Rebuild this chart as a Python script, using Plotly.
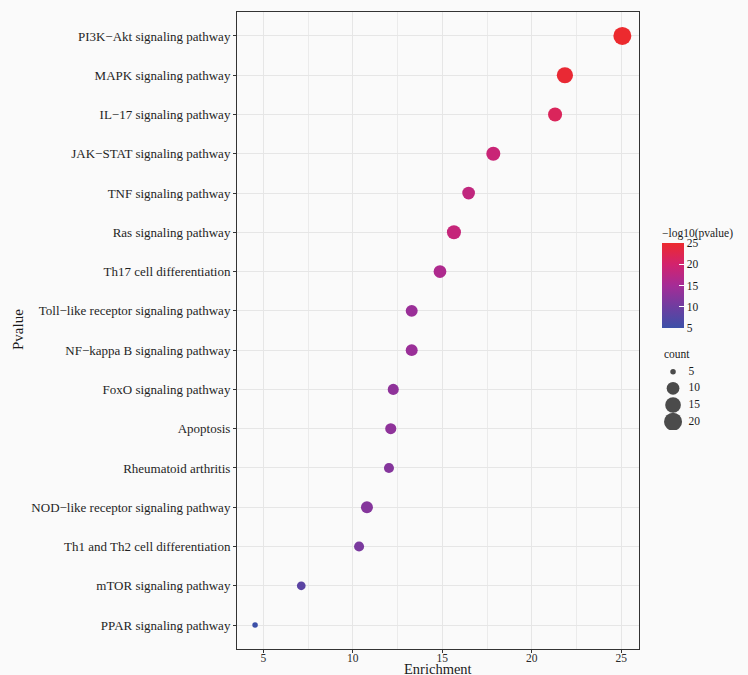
import plotly.graph_objects as go

pathways = [
    "PI3K−Akt signaling pathway", "MAPK signaling pathway", "IL−17 signaling pathway",
    "JAK−STAT signaling pathway", "TNF signaling pathway", "Ras signaling pathway",
    "Th17 cell differentiation", "Toll−like receptor signaling pathway",
    "NF−kappa B signaling pathway", "FoxO signaling pathway", "Apoptosis",
    "Rheumatoid arthritis", "NOD−like receptor signaling pathway",
    "Th1 and Th2 cell differentiation", "mTOR signaling pathway", "PPAR signaling pathway",
]
enrichment = [25.06, 21.85, 21.3, 17.85, 16.47, 15.65, 14.87, 13.29, 13.29, 12.26,
              12.12, 12.02, 10.79, 10.35, 7.12, 4.54]
counts = [20, 16, 12, 12, 10, 12, 10, 9, 9, 8, 8, 7, 9, 7, 6, 5]
neglog10p = [25.1, 24.6, 21.5, 19.0, 18.0, 18.5, 16.0, 14.0, 14.0, 13.0, 13.0, 12.0,
             12.0, 11.0, 8.0, 4.9]

x_ticks = [5, 10, 15, 20, 25]
color_ticks = [5, 10, 15, 20, 25]
legend_counts = [5, 10, 15, 20]

FONT = "Liberation Serif"
CMIN, CMAX = 4.9, 25.1
stops = [(4.9, "#3C50A8"), (10, "#6F3DA0"), (15, "#A52C96"), (20, "#D2236E"), (25.1, "#EC2A2E")]
colorscale = [[(v - CMIN) / (CMAX - CMIN), c] for v, c in stops]

CNT_MIN, CNT_MAX = 5, 20


def dsize(c):
    t = max(0.0, (c - CNT_MIN) / (CNT_MAX - CNT_MIN))
    return 5.5 + 12.5 * t ** 0.5


W, H = 748, 675
L, R, T, B = 237, 0, 12, 26
PW = W - L - R
PH = H - T - B
panel_right = 639


def px_x(x):
    return (x - L) / PW


def px_y(y):
    return (H - B - y) / PH


fig = go.Figure()

fig.add_trace(go.Scatter(
    x=enrichment, y=pathways, mode="markers",
    marker=dict(
        size=[dsize(c) for c in counts], color=neglog10p,
        colorscale=colorscale, cmin=CMIN, cmax=CMAX, line=dict(width=0), opacity=1,
        colorbar=dict(
            x=px_x(662), xanchor="left", y=px_y(328), yanchor="bottom",
            len=103, lenmode="pixels", thickness=22, xpad=0, ypad=0,
            outlinewidth=0, ticks="inside", ticklen=5, tickcolor="white",
            tickvals=color_ticks, tickfont=dict(family=FONT, size=11.5, color="#1a1a1a"),
            title=dict(text="−log10(pvalue)", side="top",
                       font=dict(family=FONT, size=11.5, color="#1a1a1a")),
        ),
    ),
    showlegend=False, hoverinfo="x+y",
))

# size legend
fig.add_trace(go.Scatter(
    x=[0.194] * len(legend_counts), y=legend_counts, mode="markers",
    marker=dict(size=[dsize(c) for c in legend_counts], color="black", line=dict(width=0)),
    xaxis="x2", yaxis="y2", showlegend=False, hoverinfo="skip",
))
fig.add_trace(go.Scatter(
    x=[0.36] * len(legend_counts), y=legend_counts, mode="text",
    text=[str(c) for c in legend_counts], textposition="middle right",
    textfont=dict(family=FONT, size=11.5, color="#1a1a1a"),
    xaxis="x2", yaxis="y2", showlegend=False, hoverinfo="skip",
))

axis_common = dict(
    showline=True, mirror=True, linecolor="#333333", linewidth=1,
    gridcolor="#E6E6E6", gridwidth=1, zeroline=False,
    ticks="outside", ticklen=3, tickcolor="#333333",
)

fig.update_layout(
    width=W, height=H,
    margin=dict(l=L, r=R, t=T, b=B),
    paper_bgcolor="#FAFAFA", plot_bgcolor="#FAFAFA",
    xaxis=dict(
        domain=[0, (panel_right - L) / PW], range=[3.53, 25.99], tickvals=x_ticks,
        minor=dict(dtick=2.5, tick0=0, showgrid=True, gridcolor="#EBEBEB", gridwidth=1, ticks=""),
        tickfont=dict(family=FONT, size=11.5, color="#2a2a2a"),
        ticklabelstandoff=-5,
        **axis_common,
    ),
    yaxis=dict(
        type="category", categoryorder="array", categoryarray=pathways,
        range=[len(pathways) - 1 + 0.61, -0.61],
        tickfont=dict(family=FONT, size=13, color="#1f1f1f"),
        **axis_common,
    ),
    xaxis2=dict(domain=[px_x(655), 1], range=[0, 1], anchor="y2", visible=False),
    yaxis2=dict(domain=[px_y(430), px_y(363.3)], range=[22.5, 2.5], anchor="x2", visible=False),
    annotations=[
        dict(text="Enrichment", x=px_x((L + panel_right) / 2), xref="paper", y=px_y(668.5),
             yref="paper", showarrow=False, xanchor="center", yanchor="middle",
             font=dict(family=FONT, size=14.5, color="#1a1a1a")),
        dict(text="Pvalue", x=px_x(18), y=px_y(330), xref="paper", yref="paper",
             showarrow=False, textangle=-90, xanchor="center", yanchor="middle",
             font=dict(family=FONT, size=15, color="#1a1a1a")),
        dict(text="count", x=px_x(662), y=px_y(354), xref="paper", yref="paper",
             showarrow=False, xanchor="left", yanchor="middle",
             font=dict(family=FONT, size=11.5, color="#1a1a1a")),
    ],
)

fig.write_html("out.html", config={"displayModeBar": False},
               post_script="document.body.style.margin='0';")
